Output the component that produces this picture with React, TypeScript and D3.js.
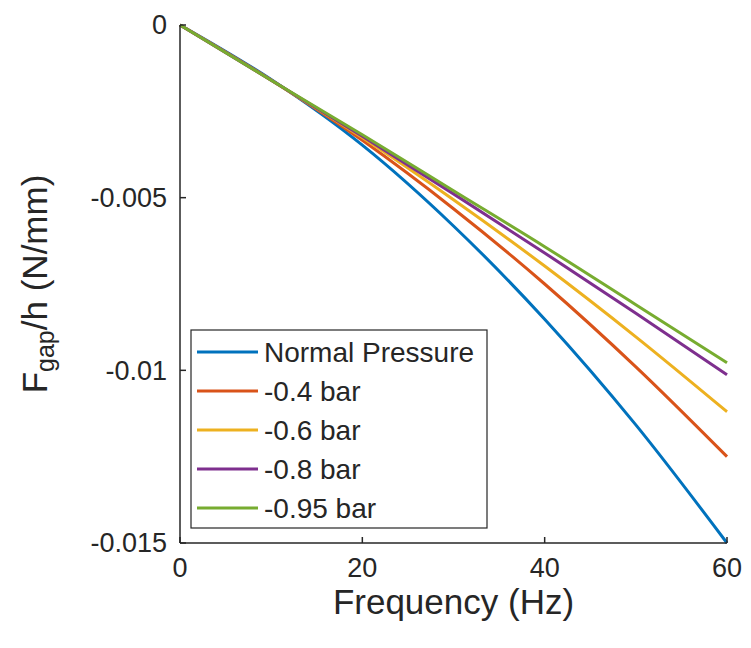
import React from "react";
import * as d3 from "d3";

const freqs = [0, 10, 20, 30, 40, 50, 60];
const seriesNames = ["Normal Pressure", "-0.4 bar", "-0.6 bar", "-0.8 bar", "-0.95 bar"];
const normalPressure = [0, -0.00158, -0.00348, -0.00582, -0.00852, -0.01158, -0.015];
const bar04 = [0, -0.00159, -0.00334, -0.00532, -0.0075, -0.0099, -0.0125];
const bar06 = [0, -0.0016, -0.00326, -0.00506, -0.00698, -0.00903, -0.0112];
const bar08 = [0, -0.0016, -0.00322, -0.00489, -0.0066, -0.00835, -0.01013];
const bar095 = [0, -0.0016, -0.00318, -0.0048, -0.00642, -0.0081, -0.00978];
const seriesColors = ["#0072BD", "#D95319", "#EDB120", "#7E2F8E", "#77AC30"];
const xTicks = [0, 20, 40, 60];
const yTicks = [0, -0.005, -0.01, -0.015];
const yTickLabels = ["0", "-0.005", "-0.01", "-0.015"];

const allSeries = [normalPressure, bar04, bar06, bar08, bar095];

export default function App() {
  const W = 751, H = 648;
  const left = 180, right = 727, top = 25, bottom = 543;
  const x = d3.scaleLinear().domain([0, 60]).range([left, right]);
  const y = d3.scaleLinear().domain([-0.015, 0]).range([bottom, top]);
  const line = d3
    .line<[number, number]>()
    .x((d) => x(d[0]))
    .y((d) => y(d[1]))
    .curve(d3.curveMonotoneX);
  const txt = "#262626";
  const font = "'Liberation Sans', Arial, sans-serif";
  const legX = 191, legY = 330, legW = 296, legH = 198;
  const rowH = 39;
  return (
    <svg width={W} height={H} style={{ position: "absolute", left: 0, top: 0, background: "#fff" }} fontFamily={font}>
      <rect x={0} y={0} width={W} height={H} fill="#fff" />
      {allSeries.map((s, i) => (
        <path
          key={i}
          d={line(freqs.map((f, j) => [f, s[j]] as [number, number])) || ""}
          fill="none"
          stroke={seriesColors[i]}
          strokeWidth={3}
          strokeLinejoin="round"
        />
      ))}
      {/* axes */}
      <line x1={left} y1={bottom} x2={right} y2={bottom} stroke={txt} strokeWidth={1.5} />
      <line x1={left} y1={top} x2={left} y2={bottom} stroke={txt} strokeWidth={1.5} />
      {xTicks.map((t) => (
        <g key={"x" + t}>
          <line x1={x(t)} x2={x(t)} y1={bottom} y2={bottom - 6} stroke={txt} strokeWidth={1.5} />
          <text x={x(t)} y={577} textAnchor="middle" fontSize={27} fill={txt}>
            {t}
          </text>
        </g>
      ))}
      {yTicks.map((t, i) => (
        <g key={"y" + t}>
          <line x1={left} x2={left + 6} y1={y(t)} y2={y(t)} stroke={txt} strokeWidth={1.5} />
          <text x={167} y={y(t)} dy="0.35em" textAnchor="end" fontSize={27} fill={txt}>
            {yTickLabels[i]}
          </text>
        </g>
      ))}
      <text x={(left + right) / 2} y={614} textAnchor="middle" fontSize={35} fill={txt}>
        Frequency (Hz)
      </text>
      <text
        transform={`translate(47, ${(top + bottom) / 2}) rotate(-90)`}
        textAnchor="middle"
        fontSize={35}
        fill={txt}
      >
        F<tspan fontSize={25} dy={7}>gap</tspan>
        <tspan dy={-7}>/h (N/mm)</tspan>
      </text>
      {/* legend */}
      <rect x={legX} y={legY} width={legW} height={legH} fill="#fff" stroke={txt} strokeWidth={1.2} />
      {seriesNames.map((n, i) => {
        const cy = 352 + i * rowH;
        return (
          <g key={n}>
            <line x1={197} x2={258} y1={cy} y2={cy} stroke={seriesColors[i]} strokeWidth={3} />
            <text x={264} y={cy} dy="0.36em" fontSize={28} fill={txt}>
              {n}
            </text>
          </g>
        );
      })}
    </svg>
  );
}
